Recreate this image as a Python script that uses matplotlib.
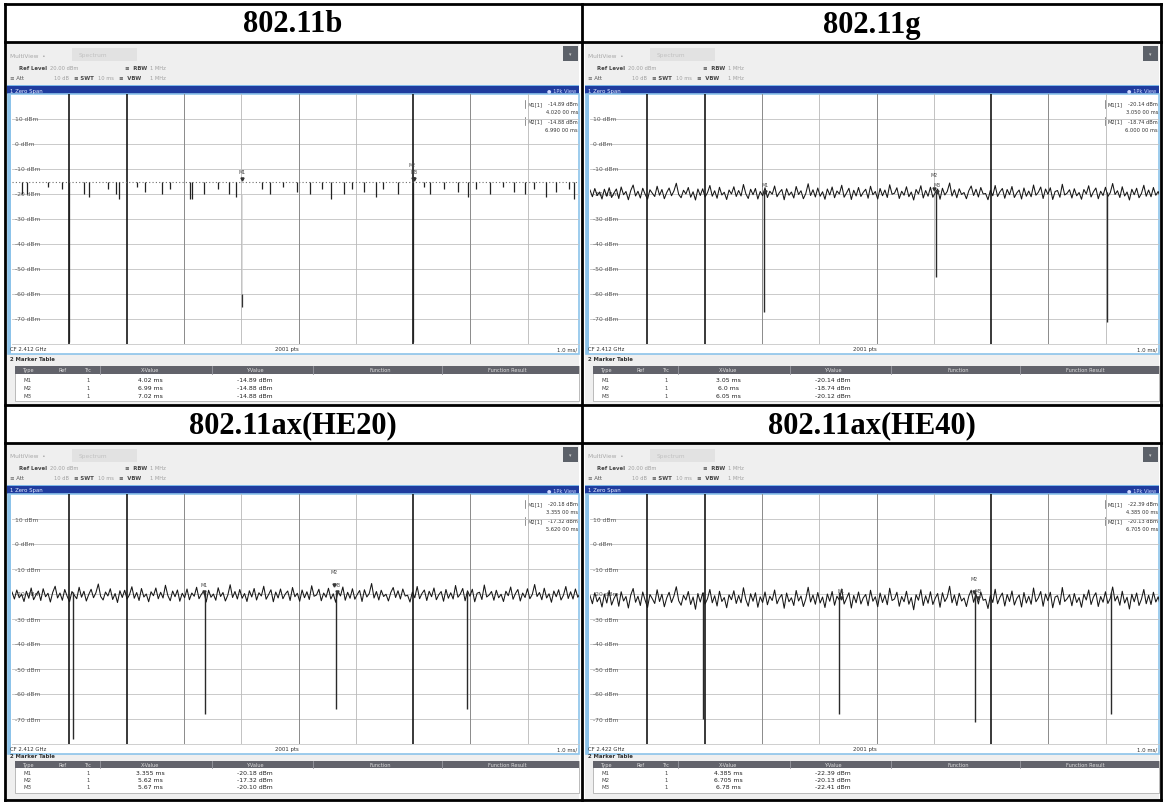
import numpy as np
import matplotlib
matplotlib.use("Agg")
import matplotlib.pyplot as plt
from matplotlib.patches import Rectangle

# ---------------- data ----------------
titles = ["802.11b", "802.11g", "802.11ax(HE20)", "802.11ax(HE40)"]
center_freq = ["CF 2.412 GHz", "CF 2.412 GHz", "CF 2.412 GHz", "CF 2.422 GHz"]
db_levels = [10, 0, -10, -20, -30, -40, -50, -60, -70]
ref_level = 20
bottom_level = -80
sweep_ms = 10.0

# 802.11b: steady burst level with short drop-outs
b_level = -15.0
b_drop_ms = [0.17, 0.26, 0.63, 0.87, 1.26, 1.34, 1.68, 1.82, 1.87, 2.18, 2.32, 2.62,
             2.76, 3.11, 3.14, 3.35, 3.60, 3.79, 3.91, 4.36, 4.50, 4.73, 4.97, 5.20,
             5.41, 5.57, 5.79, 5.93, 6.14, 6.35, 6.47, 6.74, 7.19, 7.29, 7.54, 7.78,
             7.96, 8.10, 8.34, 8.57, 8.76, 8.95, 9.11, 9.32, 9.49, 9.72, 9.81]
b_drop_low = [-20, -20, -17, -18, -20, -21, -18, -20, -22, -17, -19, -20,
              -18, -22, -22, -20, -18, -20, -21, -18, -20, -17, -19, -20,
              -18, -22, -20, -18, -19, -21, -18, -20, -17, -20, -18, -19,
              -21, -18, -20, -17, -19, -20, -18, -21, -19, -18, -22]

# 802.11g trace (dBm over the 10 ms sweep)
g_trace = [
    -18.4, -21.1, -17.8, -20.6, -19.2, -22.0, -18.1, -20.9, -17.5, -21.4, -19.6, -18.0, -21.8, -17.2, -20.3, -19.0, -22.3, -18.6, -16.4, -20.8,
    -18.9, -21.6, -17.7, -20.1, -22.1, -18.3, -19.7, -21.0, -16.9, -20.5, -18.2, -21.9, -19.4, -17.6, -20.7, -18.8, -15.7, -20.2, -21.5, -18.5,
    -20.0, -17.4, -21.3, -19.1, -22.4, -18.0, -20.6, -17.9, -21.2, -19.5, -16.6, -20.9, -18.7, -21.7, -17.3, -20.4, -19.3, -22.2, -18.4, -20.0,
    -17.1, -21.0, -18.6, -20.8, -16.2, -19.9, -21.8, -18.1, -20.3, -17.8, -22.0, -19.0, -20.7, -17.5, -21.4, -18.9, -20.1, -16.8, -21.1, -19.4,
    -18.2, -22.3, -17.9, -20.5, -19.2, -21.6, -17.0, -20.2, -18.7, -21.9, -19.8, -15.9, -20.6, -18.3, -21.2, -17.6, -20.9, -19.1, -22.1, -18.0,
    -20.4, -17.2, -21.5, -18.8, -20.0, -16.5, -21.3, -19.6, -17.7, -22.2, -18.5, -20.8, -17.4, -21.0, -19.3, -18.1, -21.7, -16.9, -20.3, -19.0,
    -22.0, -17.8, -20.7, -18.4, -21.4, -16.3, -20.1, -19.7, -17.5, -21.8, -18.9, -20.5, -17.1, -21.1, -19.2, -22.4, -18.2, -20.0, -16.7, -21.6,
    -18.6, -20.9, -17.3, -21.3, -19.5, -18.0, -22.1, -17.7, -20.4, -19.0, -15.6, -20.8, -18.3, -21.5, -17.9, -20.2, -19.4, -21.9, -18.7, -16.8,
    -20.6, -18.1, -21.2, -17.4, -20.0, -19.8, -22.3, -18.5, -20.7, -16.6, -21.0, -19.1, -17.8, -21.7, -18.2, -20.3, -17.0, -21.4, -19.6, -18.4,
    -22.0, -17.6, -20.9, -18.8, -21.1, -16.4, -20.5, -19.3, -17.2, -21.8, -18.0, -20.1, -17.5, -22.2, -19.0, -18.6, -21.3, -16.1, -20.4, -19.7,
    -18.3, -21.6, -17.9, -20.7, -19.4, -22.1, -18.2, -20.0, -16.7, -21.2, -19.1, -17.6, -21.9, -18.9, -20.6, -17.3, -21.0, -19.5, -15.8, -20.2,
    -18.7, -21.4, -17.1, -20.8, -19.2, -22.4, -18.1, -20.3, -17.7, -21.5, -19.8, -16.5, -20.9, -18.4, -21.1, -17.4, -20.5, -19.0, -21.8, -18.6]
g_gap_ms = [3.04, 6.04, 9.03]
g_gap_low = [-67, -53, -71]

# 802.11ax HE20 trace
he20_trace = [
    -19.2, -22.0, -18.4, -21.5, -20.1, -23.0, -18.9, -21.7, -17.6, -22.3, -20.4, -18.8, -22.6, -17.9, -21.1, -19.7, -23.2, -19.3, -16.9, -21.6,
    -19.6, -22.5, -18.2, -20.9, -23.1, -19.0, -20.5, -21.9, -17.3, -21.3, -18.9, -22.8, -20.2, -18.1, -21.5, -19.5, -16.0, -21.0, -22.4, -19.2,
    -20.8, -17.9, -22.2, -19.8, -23.4, -18.7, -21.4, -18.5, -22.0, -20.3, -17.1, -21.7, -19.4, -22.6, -17.8, -21.2, -20.0, -23.1, -19.1, -20.7,
    -17.6, -21.9, -19.3, -21.6, -16.5, -20.6, -22.7, -18.8, -21.1, -18.4, -22.9, -19.7, -21.5, -18.0, -22.3, -19.6, -20.9, -17.3, -21.9, -20.1,
    -18.9, -23.2, -18.5, -21.3, -20.0, -22.5, -17.5, -21.0, -19.4, -22.8, -20.5, -16.3, -21.4, -19.0, -22.0, -18.2, -21.7, -19.8, -23.0, -18.7,
    -21.2, -17.8, -22.4, -19.5, -20.8, -16.9, -22.1, -20.3, -18.3, -23.1, -19.2, -21.6, -18.0, -21.9, -20.0, -18.8, -22.6, -17.4, -21.1, -19.7,
    -22.9, -18.4, -21.5, -19.1, -22.2, -16.7, -20.9, -20.4, -18.1, -22.7, -19.6, -21.3, -17.7, -22.0, -19.9, -23.3, -18.9, -20.8, -17.2, -22.5,
    -19.3, -21.7, -17.9, -22.1, -20.2, -18.6, -23.0, -18.3, -21.2, -19.8, -15.8, -21.6, -19.0, -22.4, -18.5, -21.0, -20.1, -22.8, -19.4, -17.4,
    -21.4, -18.7, -22.0, -18.0, -20.8, -20.5, -23.2, -19.2, -21.5, -17.0, -21.9, -19.8, -18.4, -22.6, -18.9, -21.1, -17.6, -22.3, -20.3, -19.0,
    -22.9, -18.2, -21.7, -19.5, -22.0, -16.6, -21.3, -20.0, -17.8, -22.7, -18.7, -20.9, -18.1, -23.1, -19.7, -19.3, -22.2, -16.4, -21.2, -20.4,
    -19.0, -22.5, -18.5, -21.5, -20.1, -23.0, -18.9, -20.7, -17.2, -22.1, -19.8, -18.2, -22.8, -19.6, -21.4, -17.9, -21.9, -20.2, -16.2, -21.0,
    -19.4, -22.3, -17.7, -21.6, -19.9, -23.3, -18.8, -21.1, -18.3, -22.4, -20.5, -17.0, -21.8, -19.1, -22.0, -18.0, -21.3, -19.7, -22.7, -19.3]
he20_gap_ms = [1.06, 3.37, 5.66, 7.94]
he20_gap_low = [-78, -68, -66, -66]

# 802.11ax HE40 trace
he40_trace = [
    -20.6, -23.9, -19.5, -23.1, -21.3, -25.2, -20.0, -23.6, -18.6, -24.4, -21.8, -19.9, -24.9, -19.1, -22.8, -21.0, -25.6, -20.4, -17.8, -23.3,
    -20.9, -24.6, -19.2, -22.5, -25.4, -20.2, -21.9, -23.8, -18.3, -23.0, -20.1, -25.1, -21.6, -19.3, -23.4, -20.8, -17.1, -22.7, -24.5, -20.5,
    -22.4, -19.0, -24.2, -21.2, -26.1, -19.8, -23.2, -19.6, -24.0, -21.9, -18.2, -23.5, -20.7, -24.8, -18.9, -23.0, -21.4, -25.5, -20.3, -22.3,
    -18.7, -23.8, -20.6, -23.5, -17.5, -22.2, -24.9, -19.9, -22.9, -19.5, -25.3, -21.1, -23.4, -19.2, -24.3, -20.9, -22.6, -18.4, -23.9, -21.6,
    -20.2, -25.7, -19.6, -23.1, -21.5, -24.6, -18.6, -22.8, -20.8, -25.0, -22.0, -17.3, -23.2, -20.4, -24.1, -19.4, -23.6, -21.2, -25.4, -20.0,
    -22.9, -19.0, -24.5, -20.9, -22.4, -18.0, -24.0, -21.8, -19.5, -25.6, -20.6, -23.5, -19.2, -24.0, -21.5, -20.2, -24.7, -18.5, -22.9, -21.1,
    -25.1, -19.6, -23.4, -20.5, -24.3, -17.7, -22.6, -22.0, -19.3, -24.9, -21.0, -23.1, -18.9, -24.1, -21.4, -26.3, -20.3, -22.5, -18.3, -24.6,
    -20.7, -23.7, -19.1, -24.2, -21.7, -19.8, -25.3, -19.5, -23.0, -21.3, -16.9, -23.5, -20.4, -24.6, -19.7, -22.8, -21.6, -25.0, -20.8, -18.5,
    -23.3, -20.0, -24.0, -19.2, -22.5, -22.1, -25.8, -20.6, -23.4, -18.1, -23.9, -21.3, -19.6, -24.8, -20.2, -23.0, -18.8, -24.4, -21.8, -20.4,
    -25.2, -19.4, -23.6, -20.9, -24.1, -17.6, -23.1, -21.5, -19.0, -24.9, -20.0, -22.7, -19.3, -25.5, -21.2, -20.7, -24.3, -17.4, -23.0, -21.9,
    -20.3, -24.7, -19.8, -23.4, -21.4, -25.3, -20.1, -22.4, -18.4, -24.2, -21.2, -19.5, -25.0, -21.0, -23.3, -19.1, -23.8, -21.7, -17.2, -22.8,
    -20.8, -24.5, -18.9, -23.6, -21.3, -26.0, -20.1, -23.1, -19.6, -24.6, -22.1, -18.2, -23.9, -20.5, -24.2, -19.3, -23.2, -21.1, -25.1, -20.6]
he40_gap_ms = [1.97, 4.35, 6.72, 9.10]
he40_gap_low = [-70, -68, -71, -68]

# marker table per panel
marker_names = ["M1", "M2", "M3"]
marker_x = [[4.02, 6.99, 7.02], [3.05, 6.0, 6.05], [3.355, 5.62, 5.67], [4.385, 6.705, 6.78]]
marker_y = [[-14.89, -14.88, -14.88], [-20.14, -18.74, -20.12], [-20.18, -17.32, -20.10], [-22.39, -20.13, -22.41]]
marker_x_txt = [["4.02 ms", "6.99 ms", "7.02 ms"], ["3.05 ms", "6.0 ms", "6.05 ms"],
                ["3.355 ms", "5.62 ms", "5.67 ms"], ["4.385 ms", "6.705 ms", "6.78 ms"]]
marker_y_txt = [["-14.89 dBm", "-14.88 dBm", "-14.88 dBm"], ["-20.14 dBm", "-18.74 dBm", "-20.12 dBm"],
                ["-20.18 dBm", "-17.32 dBm", "-20.10 dBm"], ["-22.39 dBm", "-20.13 dBm", "-22.41 dBm"]]
table_cols = ["Type", "Ref", "Trc", "X-Value", "Y-Value", "Function", "Function Result"]

# ---------------- layout (pixels) ----------------
W, H = 1163, 803
PX_MS = 57.3
cols = [(7, 579), (585, 1159)]
rows = [dict(title=(5, 43), top=43, end=406, bar=87, plot=(95, 345), cf=350, mt=360,
             head=(367, 375), mrows=(381, 389, 397), tbl_end=402),
        dict(title=(406, 444), top=444, end=801, bar=487, plot=(495, 745), cf=750, mt=757,
             head=(762, 769), mrows=(774, 781, 788), tbl_end=794)]

fig = plt.figure(figsize=(W / 100, H / 100), dpi=100)
bg = fig.add_axes([0, 0, 1, 1])
bg.set_xlim(0, W)
bg.set_ylim(H, 0)
bg.set_axis_off()


def frac(x0, y0, x1, y1):
    return [x0 / W, 1 - y1 / H, (x1 - x0) / W, (y1 - y0) / H]


def box(x0, y0, x1, y1, **kw):
    kw.setdefault("edgecolor", "none")
    bg.add_patch(Rectangle((x0, y0), x1 - x0, y1 - y0, **kw))


def label(x, y, s, size=4.2, color="#555555", **kw):
    kw.setdefault("va", "center")
    bg.text(x, y, s, fontsize=size, color=color, family="DejaVu Sans", **kw)


grid_style = {1: ("#161616", 1.2), 2: ("#161616", 1.2), 7: ("#161616", 1.2),
              3: ("#8a8a8a", 0.7), 5: ("#8a8a8a", 0.7), 8: ("#8a8a8a", 0.7),
              4: ("#b8b8b8", 0.6), 6: ("#b8b8b8", 0.6), 9: ("#b8b8b8", 0.6)}


def draw_panel(k, px0, px1, lay):
    y0 = lay["top"]
    pt, pb = lay["plot"]
    pl = px0 + 5

    # instrument window background and status lines
    box(px0, y0, px1, lay["end"], facecolor="#efefef")
    label(px0 + 3, y0 + 13, "MultiView  \u2022", color="#a8a8a8")
    box(px0 + 65, y0 + 6, px0 + 130, y0 + 19, facecolor="#e2e2e2")
    label(px0 + 72, y0 + 13, "Spectrum", color="#c2c2c2")
    box(px1 - 16, y0 + 4, px1 - 1, y0 + 19, facecolor="#5c6169")
    label(px1 - 8.5, y0 + 11.5, "\u25be", color="#d0d0d0", size=3.5, ha="center")
    label(px0 + 12, y0 + 25, "Ref Level", color="#444444", weight="bold", size=3.9)
    label(px0 + 43, y0 + 25, "20.00 dBm", color="#a0a0a0", size=3.7)
    label(px0 + 118, y0 + 25, "\u2261  RBW", color="#444444", weight="bold", size=3.9)
    label(px0 + 143, y0 + 25, "1 MHz", color="#a0a0a0", size=3.7)
    label(px0 + 3, y0 + 35, "\u2261 Att", color="#555555", size=3.9)
    label(px0 + 47, y0 + 35, "10 dB", color="#a0a0a0", size=3.7)
    label(px0 + 67, y0 + 35, "\u2261 SWT", color="#444444", weight="bold", size=3.9)
    label(px0 + 91, y0 + 35, "10 ms", color="#a0a0a0", size=3.7)
    label(px0 + 112, y0 + 35, "\u2261  VBW", color="#444444", weight="bold", size=3.9)
    label(px0 + 143, y0 + 35, "1 MHz", color="#a0a0a0", size=3.7)

    # window title bar
    box(px0, lay["bar"] - 1.5, px1, lay["bar"], facecolor="#7db8e8")
    box(px0, lay["bar"], px1, pt, facecolor="#1f3c9e")
    label(px0 + 3, (lay["bar"] + pt) / 2, "1 Zero Span", color="#e8ecff", size=3.9)
    label(px1 - 3, (lay["bar"] + pt) / 2, "\u25cf 1Pk View", color="#cfd8ff", size=3.7, ha="right")

    # diagram area with light blue frame
    box(px0 + 1, pt, px1, lay["cf"] + 5, facecolor="white", edgecolor="#8cc3ea", linewidth=1.2)
    box(px0 + 1, pt, px0 + 3.5, lay["cf"] + 5, facecolor="#8cc3ea")
    bg.plot([pl, px1], [pb, pb], color="#c8c8c8", lw=0.6)

    ax = fig.add_axes(frac(pl, pt, px1, pb))
    ax.set_xlim(0, (px1 - pl) / PX_MS)
    ax.set_ylim(bottom_level, ref_level)
    ax.set_axis_off()
    for v in db_levels:
        ax.axhline(v, color="#c2c2c2", lw=0.6, zorder=1)
        ax.text(0.06, v, f"{v} dBm", fontsize=4.3, color="#5a5a5a", va="center", zorder=2)
    for i in range(1, 10):
        c, w = grid_style[i]
        ax.axvline(i, color=c, lw=w, zorder=1)

    if k == 0:
        ax.plot([0, sweep_ms], [b_level, b_level], color="#6e6e6e", lw=0.8,
                ls=(0, (1, 2.0)), zorder=3)
        ax.vlines(b_drop_ms, b_drop_low, b_level, color="#222222", lw=0.9, zorder=3)
        ax.vlines([1.0, 7.0], -79, b_level, color="#222222", lw=0.9, zorder=3)
        ax.vlines([4.02], -60, -20, color="#d0d0d0", lw=0.5, zorder=3)
        ax.vlines([4.02], -65, -60, color="#333333", lw=0.9, zorder=3)
    else:
        trace, gaps, lows = [(g_trace, g_gap_ms, g_gap_low),
                             (he20_trace, he20_gap_ms, he20_gap_low),
                             (he40_trace, he40_gap_ms, he40_gap_low)][k - 1]
        tx = np.linspace(0, sweep_ms, len(trace))
        ax.plot(tx, trace, color="#161616", lw=0.75, zorder=3)
        ax.vlines(gaps, lows, -19, color="#2a2a2a", lw=1.0, zorder=3)

    # markers on the trace
    for j, name in enumerate(marker_names):
        mx, my = marker_x[k][j], marker_y[k][j]
        ax.plot(mx, my + 0.8, marker="v", ms=2.2, color="#333333", lw=0, zorder=4)
        dy = 5.5 if j == 1 else 2.8
        ax.text(mx, my + dy, name, fontsize=3.4, color="#444444", ha="center",
                va="bottom", zorder=4)

    # marker readout at the upper right
    rx = px1 - 52
    for j in range(2):
        yy = pt + 10 + 17 * j
        bg.plot([rx - 2, rx - 2], [yy - 4, yy + 4], color="#666666", lw=0.5)
        label(rx, yy, f"M{j + 1}[1]", color="#333333", size=3.7)
        label(px1 - 1, yy, marker_y_txt[k][j], color="#333333", size=3.7, ha="right")
        label(px1 - 1, yy + 8, f"{marker_x[k][j]:.3f} 00 ms",
              color="#333333", size=3.7, ha="right")

    # footer of the diagram
    label(pl - 2, lay["cf"], center_freq[k], color="#333333", size=3.9)
    label(px0 + 280, lay["cf"], "2001 pts", color="#333333", size=3.9, ha="center")
    label(px1 - 2, lay["cf"], "1.0 ms/", color="#333333", size=3.9, ha="right")

    # marker table
    label(px0 + 3, lay["mt"], "2 Marker Table", color="#333333", size=3.9, weight="bold")
    h0, h1 = lay["head"]
    box(px0 + 8, h0, px1, lay["tbl_end"], facecolor="white", edgecolor="#b0b0b0", linewidth=0.6)
    box(px0 + 8, h0, px1, h1, facecolor="#62636b")
    for sx in (93, 205, 306, 435):
        bg.plot([px0 + sx, px0 + sx], [h0, h1], color="#9a9aa2", lw=0.6)
    hx = [15, 56, 81, 143, 248, 373, 500]
    for name, x in zip(table_cols, hx):
        label(px0 + x, (h0 + h1) / 2, name, color="#e0e0e0", size=3.6,
              ha="left" if name == "Type" else "center")
    for j, ry in enumerate(lay["mrows"]):
        label(px0 + 17, ry, marker_names[j], color="#444444", size=3.9)
        label(px0 + 81, ry, "1", color="#444444", size=3.9, ha="center")
        label(px0 + 143, ry, marker_x_txt[k][j], color="#222222", size=4.4, ha="center")
        label(px0 + 248, ry, marker_y_txt[k][j], color="#222222", size=4.4, ha="center")


for k in range(4):
    r, c = divmod(k, 2)
    draw_panel(k, cols[c][0], cols[c][1], rows[r])
    t0, t1 = rows[r]["title"]
    bg.text((cols[c][0] + cols[c][1]) / 2, (t0 + t1) / 2 + 1, titles[k], fontsize=22,
            family="Liberation Serif", weight="bold", ha="center", va="center", color="black")

# table rules around the four cells
for y in (5, 43, 406, 444, 801):
    bg.plot([5, 1161], [y, y], color="black", lw=2.0, solid_capstyle="projecting")
for x in (5, 581.5, 1161):
    bg.plot([x, x], [5, 801], color="black", lw=2.0, solid_capstyle="projecting")

fig.savefig("out.png", dpi=100)
